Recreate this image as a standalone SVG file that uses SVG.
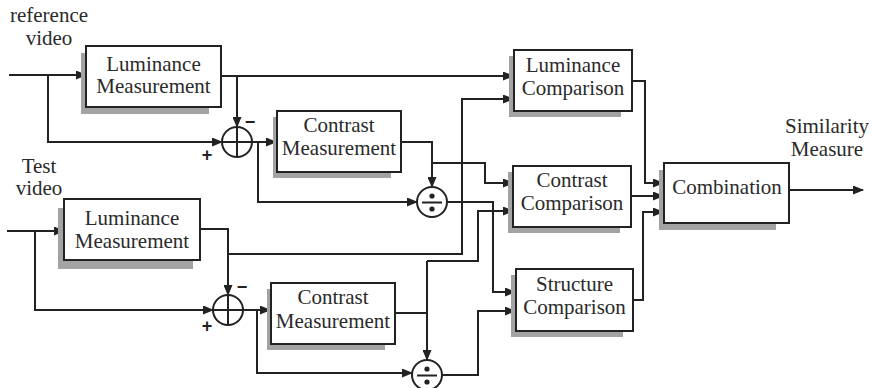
<svg xmlns="http://www.w3.org/2000/svg" width="873" height="388" viewBox="0 0 873 388">
<style>
.box{fill:#fff;stroke:#222;stroke-width:2}
.sh{fill:#a3a3a3;stroke:none}
.t{font-family:"Liberation Serif","Times New Roman",serif;font-size:21px;fill:#2a2a2a;text-anchor:middle}
.tl{font-family:"Liberation Serif","Times New Roman",serif;font-size:21px;fill:#2a2a2a}
.sg{font-family:"Liberation Sans",Arial,sans-serif;font-size:18px;font-weight:bold;fill:#222;text-anchor:middle}
.ln{fill:none;stroke:#222;stroke-width:2}
.arr{marker-end:url(#ah)}
.op{fill:#fff;stroke:#222;stroke-width:2}
</style>
<defs>
<marker id="ah" markerUnits="userSpaceOnUse" markerWidth="11" markerHeight="9" refX="10" refY="4.5" orient="auto">
<path d="M0,0 L11,4.5 L0,9 z" fill="#222"/>
</marker>
</defs>
<rect width="873" height="388" fill="#fff"/>

<g id="labels">
<text class="t" x="49" y="22">reference</text>
<text class="t" x="49" y="45">video</text>
<text class="t" x="39" y="173">Test</text>
<text class="t" x="39" y="195">video</text>
<text class="t" x="827" y="133">Similarity</text>
<text class="t" x="827" y="156">Measure</text>
</g>

<g id="connectors">
<path class="ln arr" d="M9 75 H86"/>
<path class="ln arr" d="M48 75 V142 H222"/>
<path class="ln arr" d="M221 76 H513"/>
<path class="ln arr" d="M237 76 V127"/>
<path class="ln arr" d="M252 142 H276"/>
<path class="ln arr" d="M258 142 V202 H417"/>
<path class="ln arr" d="M401 142 H432 V187"/>
<path class="ln arr" d="M432 163 H485 V183 H513"/>
<path class="ln arr" d="M447 202 H493 V292 H515"/>
<path class="ln arr" d="M7 231 H64"/>
<path class="ln arr" d="M35 231 V310 H213"/>
<path class="ln arr" d="M200 229 H228 V295"/>
<path class="ln arr" d="M228 254 H462 V99 H513"/>
<path class="ln arr" d="M243 310 H270"/>
<path class="ln arr" d="M257 310 V373 H412"/>
<path class="ln" d="M395 313 H427"/>
<path class="ln arr" d="M427 261 V360"/>
<path class="ln arr" d="M427 261 H478 V211 H513"/>
<path class="ln arr" d="M442 375 H478 V311 H515"/>
<path class="ln arr" d="M632 81 H645 V183 H663"/>
<path class="ln arr" d="M631 196 H663"/>
<path class="ln arr" d="M633 300 H643 V212 H663"/>
<path class="ln arr" d="M789 190 H863"/>
</g>

<g id="ref-lum">
<rect class="sh" x="81" y="53" width="128" height="61"/>
<rect class="box" x="86" y="46" width="135" height="61"/>
<text class="t" x="153.5" y="71">Luminance</text>
<text class="t" x="153.5" y="93">Measurement</text>
</g>

<g id="test-lum">
<rect class="sh" x="58" y="208" width="135" height="61"/>
<rect class="box" x="64" y="199" width="136" height="61"/>
<text class="t" x="132" y="225">Luminance</text>
<text class="t" x="132" y="248">Measurement</text>
</g>

<g id="ref-contrast">
<rect class="sh" x="273" y="117" width="118" height="61"/>
<rect class="box" x="277" y="111" width="124" height="61"/>
<text class="t" x="339" y="132">Contrast</text>
<text class="t" x="339" y="155">Measurement</text>
</g>

<g id="test-contrast">
<rect class="sh" x="267" y="289" width="118" height="61"/>
<rect class="box" x="271" y="283" width="124" height="61"/>
<text class="t" x="333" y="304">Contrast</text>
<text class="t" x="333" y="328">Measurement</text>
</g>

<g id="lum-comp">
<rect class="sh" x="509" y="56" width="112" height="61"/>
<rect class="box" x="514" y="50" width="118" height="61"/>
<text class="t" x="573" y="72">Luminance</text>
<text class="t" x="573" y="95">Comparison</text>
</g>

<g id="contrast-comp">
<rect class="sh" x="508" y="172" width="112" height="61"/>
<rect class="box" x="513" y="166" width="118" height="61"/>
<text class="t" x="572" y="187">Contrast</text>
<text class="t" x="572" y="210">Comparison</text>
</g>

<g id="structure-comp">
<rect class="sh" x="511" y="275" width="112" height="62"/>
<rect class="box" x="516" y="269" width="117" height="62"/>
<text class="t" x="574.5" y="291">Structure</text>
<text class="t" x="574.5" y="314">Comparison</text>
</g>

<g id="combination">
<rect class="sh" x="659" y="170" width="117" height="60"/>
<rect class="box" x="664" y="163" width="125" height="60"/>
<text class="t" x="727" y="194">Combination</text>
</g>

<g id="ref-sum">
<circle class="op" cx="237" cy="142" r="15"/>
<path class="ln" d="M222 142 H252 M237 127 V157"/>
<text class="sg" x="250" y="128">−</text>
<text class="sg" x="207" y="161">+</text>
</g>

<g id="test-sum">
<circle class="op" cx="228" cy="310" r="15"/>
<path class="ln" d="M213 310 H243 M228 295 V325"/>
<text class="sg" x="242" y="293">−</text>
<text class="sg" x="207" y="332">+</text>
</g>

<g id="ref-div">
<circle class="op" cx="432" cy="202" r="15"/>
<path class="ln" d="M422 202.5 H442"/>
<circle cx="432" cy="196" r="2.6" fill="#222"/>
<circle cx="432" cy="209" r="2.6" fill="#222"/>
</g>

<g id="test-div">
<circle class="op" cx="427" cy="375" r="15"/>
<path class="ln" d="M417 375.5 H437"/>
<circle cx="427" cy="369" r="2.6" fill="#222"/>
<circle cx="427" cy="382" r="2.6" fill="#222"/>
</g>
</svg>
